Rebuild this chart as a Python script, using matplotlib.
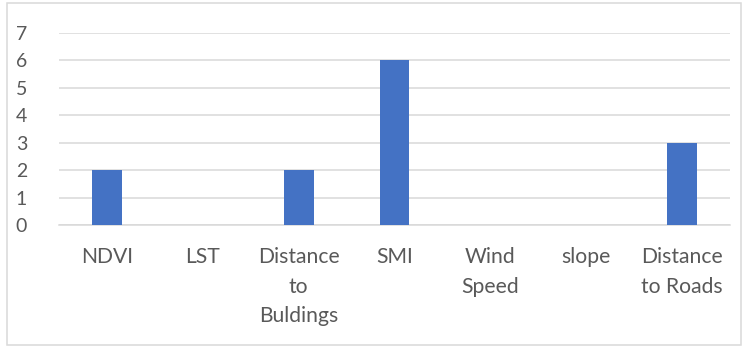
import matplotlib.pyplot as plt
from matplotlib.patches import Rectangle

categories = ["NDVI", "LST", "Distance\nto\nBuldings", "SMI", "Wind\nSpeed", "slope", "Distance\nto Roads"]
values = [2, 0, 2, 6, 0, 0, 3]

plt.rcParams['font.family'] = ['Lato', 'DejaVu Sans']

fig = plt.figure(figsize=(7.49, 3.47), dpi=100)
ax = fig.add_axes([59/749, 1 - 225/347, (730-59)/749, (225-33)/347])

x = range(len(categories))
ax.bar(x, values, width=0.31, color='#4472C4', zorder=3)

ax.set_xlim(-0.5, len(categories) - 0.5)
ax.set_ylim(0, 7)
ax.set_yticks(range(0, 8))
ax.set_xticks(list(x))
ax.set_xticklabels(categories, linespacing=1.6, fontsize=15.2)
ax.yaxis.grid(True, color='#d9d9d9', linewidth=1.1, zorder=0)
for s in ['top', 'right', 'left']:
    ax.spines[s].set_visible(False)
ax.spines['bottom'].set_color('#d9d9d9')
ax.spines['bottom'].set_linewidth(1.1)
ax.tick_params(axis='both', length=0, colors='#595959')
ax.tick_params(axis='y', pad=23, labelsize=14)
ax.tick_params(axis='x', pad=16)

# chart border
fig.patches.append(Rectangle((7/749, 2/347), 734/749, 342/347, transform=fig.transFigure,
                             fill=False, edgecolor='#d9d9d9', linewidth=1.1))

fig.savefig('out.png', dpi=100)
